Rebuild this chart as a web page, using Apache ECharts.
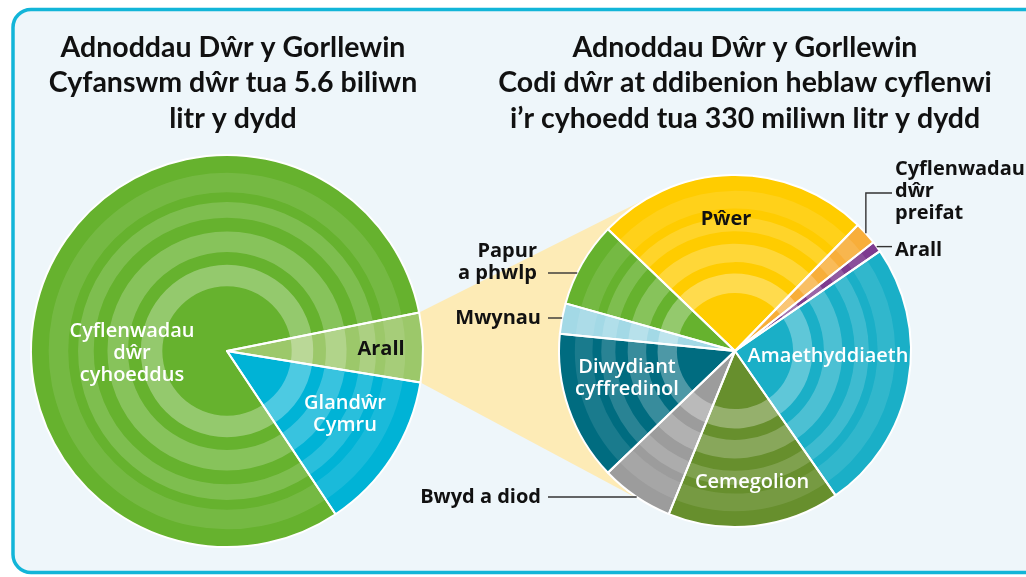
<!DOCTYPE html>
<html>
<head>
<meta charset="utf-8">
<script src="https://cdn.jsdelivr.net/npm/echarts@6/dist/echarts.min.js"></script>
<style>
html, body { margin: 0; padding: 0; background: #fff; }
#chart { width: 1026px; height: 577px; }
</style>
</head>
<body>
<div id="chart"></div>
<script>
// Cyfanswm dŵr (%)
const totalNames = ['Arall', 'Glandŵr Cymru', 'Cyflenwadau dŵr cyhoeddus']
const totalValues = [5.7, 13.1, 81.2]

// Codi dŵr heblaw cyflenwi i'r cyhoedd (%)
const useNames = ['Pŵer', 'Cyflenwadau dŵr preifat', 'Arall', 'Amaethyddiaeth', 'Cemegolion',
  'Bwyd a diod', 'Diwydiant cyffredinol', 'Mwynau', 'Papur a phwlp']
const useValues = [25.1, 2.1, 1.0, 24.9, 15.8, 6.7, 13.7, 2.8, 7.8]

const totalColors = ['#9CC86A', '#00B3D6', '#66B22E']
const useColors = ['#FFCC00', '#F8AE3A', '#7E3B8F', '#1AAFC7', '#678F2D', '#9C9C9C', '#006C80', '#A3D9E6', '#66B22E']

// pie geometry
const L = { center: [227, 351], r: 196, start: 11.3 }
const R = { center: [735, 351], r: 176, start: 136.2 }

// lighter rings (inner, outer as share of radius, white opacity)
const bands = [[0.33, 0.44, 0.3], [0.505, 0.61, 0.22], [0.68, 0.76, 0.16], [0.81, 0.91, 0.1]]

const white = '#fff', black = '#111'
const totalSpots = [
  { x: 381, y: 349, text: 'Arall', color: black },
  { x: 345, y: 414, text: 'Glandŵr\nCymru', color: white },
  { x: 132, y: 353, text: 'Cyflenwadau\ndŵr\ncyhoeddus', color: white }
]
const useSpots = [
  { x: 726, y: 219, text: 'Pŵer', color: black },
  { x: 895, y: 191, text: 'Cyflenwadau\ndŵr\npreifat', color: black, align: 'left' },
  { x: 895, y: 250, text: 'Arall', color: black, align: 'left' },
  { x: 828, y: 356, text: 'Amaethyddiaeth', color: white },
  { x: 752, y: 482, text: 'Cemegolion', color: white },
  { x: 541, y: 497, text: 'Bwyd a diod', color: black, align: 'right' },
  { x: 627, y: 378, text: 'Diwydiant\ncyffredinol', color: white },
  { x: 541, y: 318, text: 'Mwynau', color: black, align: 'right' },
  { x: 537, y: 262, text: 'Papur\na phwlp', color: black, align: 'right' }
]

const pieSeries = (geo, names, values, colors, spots) => {
  const list = []
  list.push({
    type: 'pie', center: geo.center, radius: [0, geo.r], startAngle: geo.start, clockwise: true,
    silent: true, z: 2, label: { show: false }, labelLine: { show: false },
    data: names.map((n, i) => ({ name: n, value: values[i], itemStyle: { color: colors[i] } }))
  })
  bands.forEach(([a, b, o]) => {
    list.push({
      type: 'pie', center: geo.center, radius: [a * geo.r, b * geo.r], startAngle: geo.start, clockwise: true,
      silent: true, z: 3, label: { show: false }, labelLine: { show: false },
      itemStyle: { color: 'rgba(255,255,255,' + o + ')' },
      data: names.map((n, i) => ({ name: n, value: values[i] }))
    })
  })
  list.push({
    type: 'pie', center: geo.center, radius: [0, geo.r], startAngle: geo.start, clockwise: true,
    silent: true, z: 4, avoidLabelOverlap: false,
    itemStyle: { color: 'rgba(0,0,0,0)', borderColor: '#fff', borderWidth: 2 },
    label: {
      show: true, position: 'inside', fontFamily: 'Open Sans', fontWeight: 600, fontSize: 20, lineHeight: 22,
      formatter: (p) => spots[p.dataIndex].text
    },
    labelLine: { show: false },
    labelLayout: (p) => {
      const s = spots[p.dataIndex]
      return { x: s.x, y: s.y, align: s.align || 'center', verticalAlign: 'middle' }
    },
    data: names.map((n, i) => ({
      name: n, value: values[i],
      label: { color: spots[i].color, fontWeight: spots[i].color === black ? 700 : 600 }
    }))
  })
  return list
}

// angle helpers (degrees, counter-clockwise from 3 o'clock, slices run clockwise)
const sliceAngles = (geo, values, idx) => {
  const sum = values.reduce((a, b) => a + b, 0)
  let before = 0
  for (let i = 0; i < idx; i++) before += values[i]
  const a0 = geo.start - 360 * before / sum
  return [a0, a0 - 360 * values[idx] / sum]
}
const pointAt = (geo, deg, r) => {
  const t = deg * Math.PI / 180
  return [geo.center[0] + r * Math.cos(t), geo.center[1] - r * Math.sin(t)]
}
const tangent = (p, geo, upper) => {
  const dx = geo.center[0] - p[0], dy = geo.center[1] - p[1]
  const d = Math.hypot(dx, dy)
  const alpha = Math.asin(geo.r / d)
  const base = Math.atan2(dy, dx)
  const ang = upper ? base - alpha : base + alpha
  const len = Math.sqrt(d * d - geo.r * geo.r)
  return [p[0] + len * Math.cos(ang), p[1] + len * Math.sin(ang)]
}
const edgeX = (y) => R.center[0] - Math.sqrt(R.r * R.r - (y - R.center[1]) ** 2)

// connector from the small "Arall" slice to the right pie
const arallAng = sliceAngles(L, totalValues, 0)
const c1 = pointAt(L, arallAng[0], L.r)
const c2 = pointAt(L, arallAng[1], L.r)
const connector = [c1, tangent(c1, R, true), R.center, tangent(c2, R, false), c2]

// leader lines
const privAng = sliceAngles(R, useValues, 1)
const privPt = pointAt(R, (privAng[0] + privAng[1]) / 2, R.r)
const othAng = sliceAngles(R, useValues, 2)
const othPt = pointAt(R, (othAng[0] + othAng[1]) / 2, R.r)
const leaders = [
  [[548, 273], [edgeX(273), 273]],
  [[548, 318], [edgeX(318), 318]],
  [[548, 497], [edgeX(497), 497]],
  [privPt, [privPt[0], 193], [892, 193]],
  [othPt, [892, othPt[1]]]
]

const myChart = echarts.init(document.getElementById('chart'))

const titleStyle = {
  fontFamily: 'Lato', fontWeight: 'bold', fontSize: 28.5, lineHeight: 35.5, color: '#111'
}

const option = {
  animation: false,
  title: [
    {
      text: 'Adnoddau Dŵr y Gorllewin\nCyfanswm dŵr tua 5.6 biliwn\nlitr y dydd',
      left: 228, top: 25, textAlign: 'center', textStyle: titleStyle
    },
    {
      text: 'Adnoddau Dŵr y Gorllewin\nCodi dŵr at ddibenion heblaw cyflenwi\ni’r cyhoedd tua 330 miliwn litr y dydd',
      left: 740, top: 25, textAlign: 'center', textStyle: titleStyle
    }
  ],
  graphic: [
    {
      type: 'rect', z: -10, silent: true,
      shape: { x: 13, y: 9.5, width: 1100, height: 563, r: 18 },
      style: { fill: '#EEF6FA', stroke: '#12B5D8', lineWidth: 3.5 }
    },
    {
      type: 'polygon', z: 0, silent: true,
      shape: { points: connector },
      style: { fill: '#FDEBB6' }
    },
    ...leaders.map((pts) => ({
      type: 'polyline', z: 10, silent: true,
      shape: { points: pts },
      style: { stroke: '#333', lineWidth: 1.4, fill: null }
    }))
  ],
  series: [
    ...pieSeries(L, totalNames, totalValues, totalColors, totalSpots),
    ...pieSeries(R, useNames, useValues, useColors, useSpots)
  ]
}

option && myChart.setOption(option)
</script>
</body>
</html>
